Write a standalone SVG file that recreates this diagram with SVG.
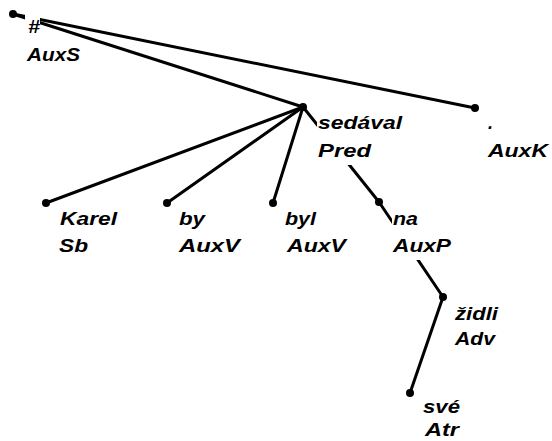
<svg xmlns="http://www.w3.org/2000/svg" width="552" height="441" viewBox="0 0 552 441">
<style>
.e{stroke:#000;stroke-width:3;stroke-linecap:round;fill:none}
.d{fill:#000}
.b{fill:#fff}
text{font-family:"Liberation Sans",Arial,sans-serif;font-size:18px;font-weight:bold;font-style:italic;fill:#000}
</style>
<rect width="552" height="441" fill="#fff"/>
<g id="connectors">
<line class="e" x1="13" y1="14" x2="303" y2="107"/>
<line class="e" x1="13" y1="14" x2="475" y2="108"/>
<line class="e" x1="303" y1="107" x2="46" y2="203"/>
<line class="e" x1="303" y1="107" x2="167" y2="203"/>
<line class="e" x1="303" y1="107" x2="273" y2="203"/>
<line class="e" x1="303" y1="107" x2="379" y2="202"/>
<line class="e" x1="379" y1="202" x2="443" y2="297"/>
<line class="e" x1="443" y1="297" x2="410" y2="393"/>
</g>
<g id="n-root">
<circle class="d" cx="13" cy="14" r="4"/>
<rect class="b" x="25" y="14" width="15" height="27"/>
<text x="28" y="33" textLength="12" lengthAdjust="spacingAndGlyphs">#</text>
<rect class="b" x="25" y="42" width="57" height="27"/>
<text x="27" y="61" textLength="53" lengthAdjust="spacingAndGlyphs">AuxS</text>
</g>
<g id="n-sedaval">
<circle class="d" cx="303" cy="107" r="4"/>
<rect class="b" x="317" y="111" width="88" height="27"/>
<text x="318" y="129" textLength="84" lengthAdjust="spacingAndGlyphs">sedával</text>
<rect class="b" x="317" y="138" width="56" height="27"/>
<text x="318" y="157" textLength="53" lengthAdjust="spacingAndGlyphs">Pred</text>
</g>
<g id="n-auxk">
<circle class="d" cx="475" cy="108" r="4"/>
<text x="488" y="129">.</text>
<text x="488" y="157" textLength="60" lengthAdjust="spacingAndGlyphs">AuxK</text>
</g>
<g id="n-karel">
<circle class="d" cx="46" cy="203" r="4"/>
<text x="60" y="225" textLength="57" lengthAdjust="spacingAndGlyphs">Karel</text>
<text x="59" y="252" textLength="29" lengthAdjust="spacingAndGlyphs">Sb</text>
</g>
<g id="n-by">
<circle class="d" cx="167" cy="203" r="4"/>
<text x="179" y="225" textLength="26" lengthAdjust="spacingAndGlyphs">by</text>
<text x="179" y="252" textLength="61" lengthAdjust="spacingAndGlyphs">AuxV</text>
</g>
<g id="n-byl">
<circle class="d" cx="273" cy="203" r="4"/>
<text x="285" y="225" textLength="31" lengthAdjust="spacingAndGlyphs">byl</text>
<text x="287" y="252" textLength="59" lengthAdjust="spacingAndGlyphs">AuxV</text>
</g>
<g id="n-na">
<circle class="d" cx="379" cy="202" r="4"/>
<rect class="b" x="392" y="207" width="28" height="27"/>
<text x="393" y="225" textLength="25" lengthAdjust="spacingAndGlyphs">na</text>
<rect class="b" x="392" y="234" width="61" height="26"/>
<text x="393" y="252" textLength="58" lengthAdjust="spacingAndGlyphs">AuxP</text>
</g>
<g id="n-zidli">
<circle class="d" cx="443" cy="297" r="4"/>
<text x="455" y="320" textLength="43" lengthAdjust="spacingAndGlyphs">židli</text>
<text x="455" y="345" textLength="40" lengthAdjust="spacingAndGlyphs">Adv</text>
</g>
<g id="n-sve">
<circle class="d" cx="410" cy="393" r="4"/>
<text x="423" y="413" textLength="37" lengthAdjust="spacingAndGlyphs">své</text>
<text x="425" y="436" textLength="34" lengthAdjust="spacingAndGlyphs">Atr</text>
</g>
</svg>
